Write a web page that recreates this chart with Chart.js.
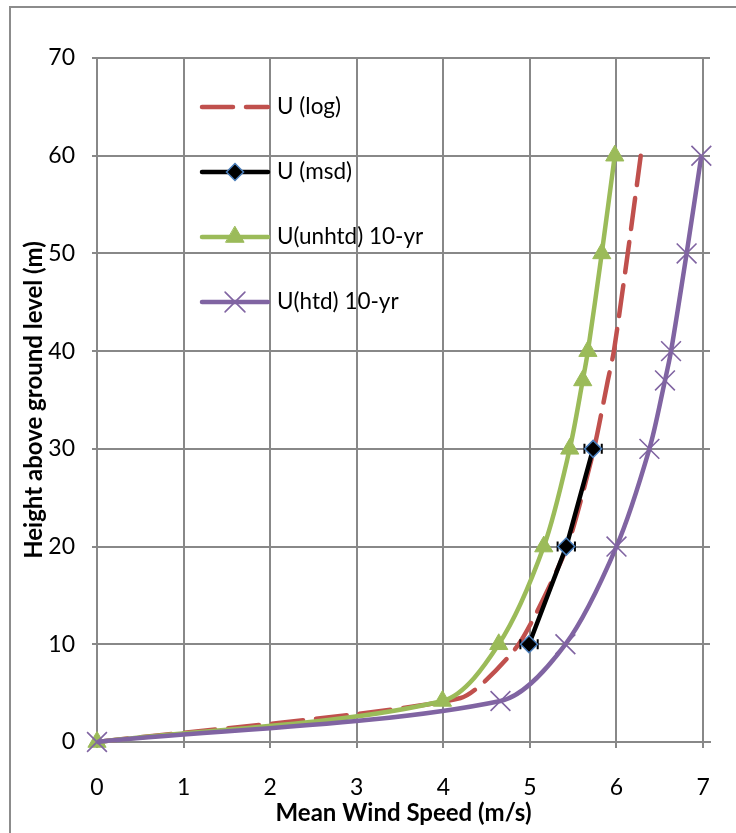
<!DOCTYPE html>
<html><head><meta charset="utf-8">
<script src="https://cdn.jsdelivr.net/npm/chart.js@4.4.0/dist/chart.umd.min.js"></script>
<style>html,body{margin:0;padding:0;background:#fff}canvas{display:block}</style>
</head><body>
<canvas id="c" width="736" height="833"></canvas>
<script>
// ---- data ----
const xTickValues = [0, 1, 2, 3, 4, 5, 6, 7];
const yTickValues = [0, 10, 20, 30, 40, 50, 60, 70];
const logHeights = [0, 4.5, 10, 20, 30, 37, 40, 50, 60];
const uLog = [0, 4.2, 4.87, 5.43, 5.74, 5.9, 5.97, 6.13, 6.28];
const msdHeights = [10, 20, 30];
const uMsd = [4.99, 5.42, 5.73];
const uMsdErr = [0.1, 0.1, 0.1];
const tenYrHeights = [0, 4.2, 10, 20, 30, 37, 40, 50, 60];
const uUnhtd = [0, 3.99, 4.64, 5.16, 5.46, 5.61, 5.67, 5.83, 5.98];
const uHtd = [0, 4.66, 5.41, 6.0, 6.38, 6.56, 6.63, 6.81, 6.98];
const seriesNames = ['U (log)', 'U (msd)', 'U(unhtd) 10-yr', 'U(htd) 10-yr'];
const xTitle = 'Mean Wind Speed (m/s)';
const yTitle = 'Height above ground level (m)';

const pts = (xs, ys) => xs.map((x, i) => ({x: x, y: ys[i]}));
const FONT = 'Lato';
const GRID = '#888888';

const frame = {
  id: 'frame',
  beforeDraw(chart) {
    const ctx = chart.ctx;
    ctx.save();
    ctx.fillStyle = '#fff';
    ctx.fillRect(0, 0, chart.width, chart.height);
    ctx.strokeStyle = '#8c8c8c';
    ctx.lineWidth = 2;
    ctx.beginPath();
    ctx.moveTo(10, 900); ctx.lineTo(10, 7); ctx.lineTo(800, 7);
    ctx.stroke();
    ctx.restore();
  }
};

const errorBars = {
  id: 'errorBars',
  beforeDatasetDraw(chart, args) {
    if (args.index !== 1) return;
    const ctx = chart.ctx, xs = chart.scales.x, ys = chart.scales.y;
    ctx.save();
    ctx.strokeStyle = '#000';
    ctx.lineWidth = 2;
    uMsd.forEach((u, i) => {
      const py = ys.getPixelForValue(msdHeights[i]);
      const x1 = xs.getPixelForValue(u - uMsdErr[i]);
      const x2 = xs.getPixelForValue(u + uMsdErr[i]);
      ctx.beginPath();
      ctx.moveTo(x1, py); ctx.lineTo(x2, py);
      ctx.moveTo(x1, py - 5); ctx.lineTo(x1, py + 5);
      ctx.moveTo(x2, py - 5); ctx.lineTo(x2, py + 5);
      ctx.stroke();
    });
    ctx.restore();
  }
};

const insideLegend = {
  id: 'insideLegend',
  afterDraw(chart) {
    const ctx = chart.ctx;
    chart.data.datasets.forEach((ds, i) => {
      const y = 107 + i * 65;
      ctx.save();
      ctx.strokeStyle = ds.borderColor;
      ctx.lineWidth = ds.borderWidth;
      ctx.lineCap = 'round';
      ctx.setLineDash(ds.borderDash || []);
      ctx.beginPath();
      ctx.moveTo(202, y); ctx.lineTo(268, y);
      ctx.stroke();
      ctx.setLineDash([]);
      if (ds.pointRadius > 0) {
        ctx.fillStyle = ds.pointBackgroundColor;
        ctx.strokeStyle = ds.pointBorderColor;
        ctx.lineWidth = ds.pointBorderWidth;
        Chart.helpers.drawPoint(ctx, {pointStyle: ds.pointStyle, radius: ds.pointRadius, borderWidth: ds.pointBorderWidth, rotation: 0}, 235, y);
      }
      ctx.fillStyle = '#000';
      ctx.font = '22.5px ' + FONT;
      ctx.textBaseline = 'middle';
      ctx.textAlign = 'left';
      ctx.fillText(seriesNames[i], 277, y);
      ctx.restore();
    });
  }
};

new Chart(document.getElementById('c'), {
  type: 'scatter',
  data: {
    datasets: [
      {label: seriesNames[0], data: pts(uLog, logHeights), showLine: true, borderColor: '#c0504d', borderWidth: 4.5,
       borderDash: [31, 13], borderCapStyle: 'round', tension: 0.2, pointRadius: 0, order: 4, clip: false},
      {label: seriesNames[1], data: pts(uMsd, msdHeights), showLine: true, borderColor: '#000', borderWidth: 4.5,
       tension: 0, pointStyle: 'rectRot', pointRadius: 8.5, pointBackgroundColor: '#000', pointBorderColor: '#4a7ebb', pointBorderWidth: 1.5, order: 3, clip: false},
      {label: seriesNames[2], data: pts(uUnhtd, tenYrHeights), showLine: true, borderColor: '#9bbb59', borderWidth: 4.5,
       tension: 0.3, pointStyle: 'triangle', pointRadius: 10.5, pointBackgroundColor: '#9bbb59', pointBorderColor: '#9bbb59', pointBorderWidth: 1, order: 2, clip: false},
      {label: seriesNames[3], data: pts(uHtd, tenYrHeights), showLine: true, borderColor: '#8064a2', borderWidth: 4.5,
       tension: 0.3, pointStyle: 'crossRot', pointRadius: 14, pointBackgroundColor: '#8064a2', pointBorderColor: '#8064a2', pointBorderWidth: 1.6, order: 1, clip: false}
    ]
  },
  options: {
    responsive: false, animation: false, devicePixelRatio: 1,
    layout: {padding: {left: 10, top: 58, right: 23, bottom: 2}},
    plugins: {legend: {display: false}, tooltip: {enabled: false}},
    scales: {
      x: {
        type: 'linear', min: 0, max: 7.08,
        afterBuildTicks: s => { s.ticks = xTickValues.map(v => ({value: v})); },
        afterFit: s => { s.height = 89; },
        grid: {color: GRID, lineWidth: 2, tickLength: 6},
        border: {color: GRID, width: 2},
        ticks: {font: {family: FONT, size: 23}, color: '#000', padding: 26},
        title: {display: true, text: xTitle, color: '#000', font: {family: FONT, size: 24, weight: 'bold'}, padding: {top: 0, bottom: 3}}
      },
      y: {
        type: 'linear', min: 0, max: 70,
        afterBuildTicks: s => { s.ticks = yTickValues.map(v => ({value: v})); },
        afterFit: s => { s.width = 87; },
        grid: {color: GRID, lineWidth: 2, tickLength: 5},
        border: {color: GRID, width: 2},
        ticks: {font: {family: FONT, size: 23}, color: '#000', padding: 17},
        title: {display: true, text: yTitle, color: '#000', font: {family: FONT, size: 24, weight: 'bold'}, padding: {top: 10, bottom: 0}}
      }
    }
  },
  plugins: [frame, errorBars, insideLegend]
});
</script>
</body></html>
